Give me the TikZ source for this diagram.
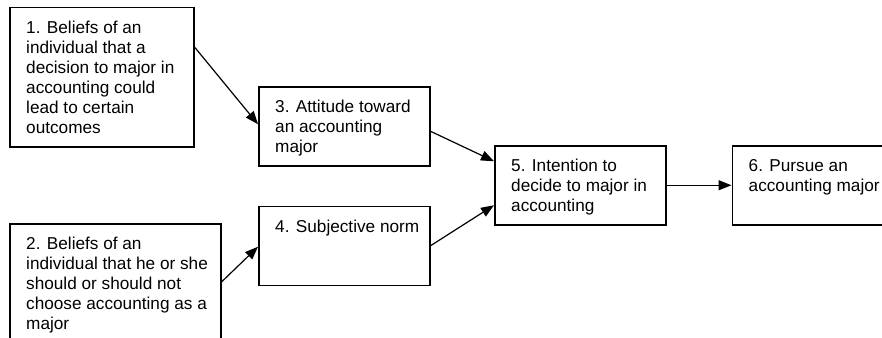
\documentclass[tikz,border=0pt]{standalone}
\usepackage{fontspec}
\setmainfont{Liberation Sans}
\usetikzlibrary{positioning,calc,arrows.meta}

\begin{document}
\begin{tikzpicture}[
        x=1pt, y=-1pt,
        node distance=39pt,
        factor/.style={draw, line width=1.5pt, minimum width=171pt, minimum height=79pt, inner sep=0pt},
        caption/.style={anchor=north west, align=left, inner xsep=17pt, inner ysep=14pt, font=\fontsize{17.2}{20}\selectfont},
        arr/.style={-{Triangle[length=13pt,width=10pt]}, line width=1.2pt},
    ]
    \useasboundingbox (0,0) rectangle (882,337);
    \clip (0,0) rectangle (882,337);

    % === Column 1: Beliefs ===
    \node[factor, anchor=north west, minimum width=184pt, minimum height=139pt,
        label={[caption]north west:{1. Beliefs of an\\individual that a\\decision to major in\\accounting could\\lead to certain\\outcomes}}] (belief1) at (9,7) {};
    \node[factor, anchor=north west, minimum width=211pt, minimum height=130pt,
        label={[caption]north west:{2. Beliefs of an\\individual that he or she\\should or should not\\choose accounting as a\\major}}] (belief2) at (9,223) {};

    % === Column 2: Attitude and norm ===
    \node[factor, anchor=north west,
        label={[caption]north west:{3. Attitude toward\\an accounting\\major}}] (attitude) at (258,86) {};
    \node[factor, below=39pt of attitude,
        label={[caption]north west:{4. Subjective norm}}] (norm) {};

    % === Column 3: Intention and behaviour ===
    \node[factor, anchor=north west,
        label={[caption]north west:{5. Intention to\\decide to major in\\accounting}}] (intention) at (494,145) {};
    \node[factor, right=65pt of intention,
        label={[caption]north west:{6. Pursue an\\accounting major}}] (pursue) {};

    \draw[arr] ($(belief1.north east)+(0,40)$) -- ($(attitude.west)+(0,-2)$);
    \draw[arr] ($(belief2.north east)+(0,59)$) -- ($(norm.west)+(0,1)$);
    \draw[arr] ($(attitude.east)+(0,5)$) -- ($(intention.west)+(0,-24)$);
    \draw[arr] (norm.east) -- ($(intention.west)+(0,20)$);
    \draw[arr] (intention) -- (pursue);

\end{tikzpicture}
\end{document}
